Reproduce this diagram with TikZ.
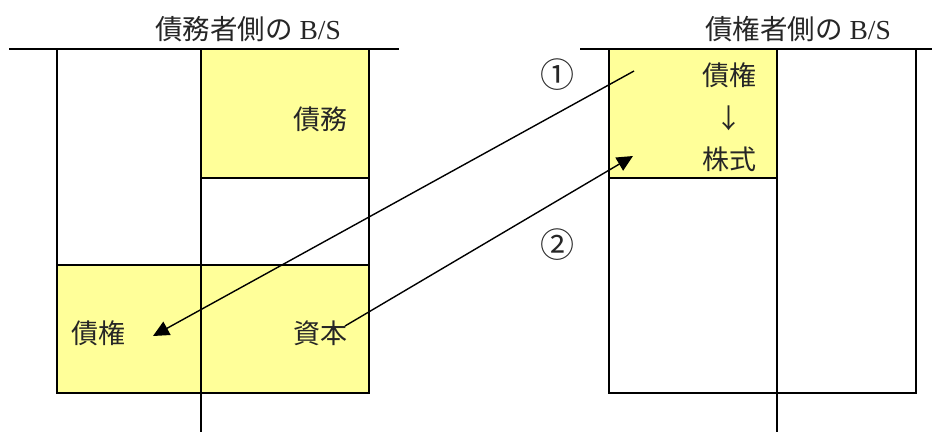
\documentclass[tikz,border=0pt]{standalone}
\usepackage{fontspec}
\setmainfont{Liberation Serif}
\newfontfamily\cjk{Noto Sans CJK JP}
\usetikzlibrary{arrows.meta}
\definecolor{pale}{HTML}{FFFF99}
\begin{document}
\begin{tikzpicture}[x=1pt,y=-1pt,
  ln/.style={line width=1.4pt},
  lbl/.style={font=\fontsize{27}{29}\selectfont\cjk,inner sep=0pt,text=black!85},
  num/.style={font=\fontsize{34}{36}\selectfont\cjk,inner sep=0pt,text=black!85},
  ttl/.style={font=\fontsize{27.5}{29}\selectfont,inner sep=0pt,text=black!85},
  arr/.style={line width=1.4pt,-{Triangle[length=16pt,width=15pt]}}]
\useasboundingbox (0,0) rectangle (932,432);
% left B/S
\fill[pale] (201,49) rectangle (369,178);
\fill[pale] (57,265) rectangle (369,393);
\draw[ln] (9,49) -- (399,49);
\draw[ln] (57,49) -- (57,393) -- (369,393) -- (369,49);
\draw[ln] (201,49) -- (201,432);
\draw[ln] (201,178) -- (369,178);
\draw[ln] (57,265) -- (369,265);
\node[ttl] (t1) at (248,29) {{\cjk 債務者側の} B/S};
\node[lbl] (d1) at (320,119) {債務};
\node[lbl] (c1) at (98,333) {債権};
\node[lbl] (k1) at (320,333) {資本};
% right B/S
\fill[pale] (609,49) rectangle (777,178);
\draw[ln] (580,49) -- (932,49);
\draw[ln] (609,49) -- (609,393) -- (916,393) -- (916,49);
\draw[ln] (777,49) -- (777,432);
\draw[ln] (609,178) -- (777,178);
\node[ttl] (t2) at (798,29) {{\cjk 債権者側の} B/S};
\node[lbl] (c2) at (729,75) {債権};
\node[lbl] (ar) at (729,118) {↓};
\node[lbl] (s2) at (729,159) {株式};
\node[num] (n1) at (557,75) {①};
\node[num] (n2) at (557,245) {②};
% arrows
\coordinate (a1s) at (634,71);
\coordinate (a1e) at (153,336);
\coordinate (a2s) at (345,326);
\coordinate (a2e) at (633,156);
\draw[arr] (a1s) -- (a1e);
\draw[arr] (a2s) -- (a2e);
\end{tikzpicture}
\end{document}
